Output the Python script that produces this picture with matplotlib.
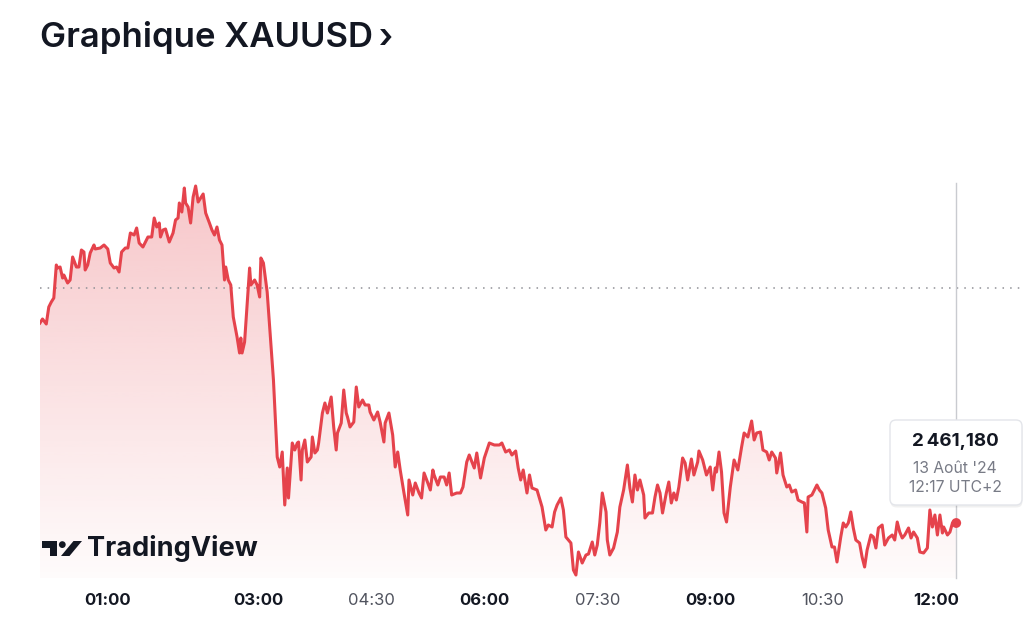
import matplotlib.pyplot as plt
import numpy as np
from matplotlib.patches import FancyBboxPatch, Polygon, Circle

# minutes after midnight (13 Aug 2024, UTC+2) and XAUUSD price
minutes = [
    6, 8, 11, 13, 15, 17, 19, 20, 22, 24, 25, 28, 30, 32, 35, 37, 39, 41, 42, 44,
    46, 49, 50, 54, 57, 60, 62, 65, 67, 69, 71, 74, 76, 78, 81, 83, 85, 88, 90, 92,
    95, 97, 99, 101, 102, 104, 106, 109, 112, 114, 116, 117, 119, 121, 122, 124, 126, 128, 130, 132,
    134, 136, 138, 141, 143, 145, 147, 149, 151, 153, 154, 156, 158, 160, 163, 165, 166, 167, 169, 173,
    174, 177, 179, 181, 182, 184, 187, 191,
    192, 195, 197, 199, 201, 203, 204, 207, 209, 211, 212, 214, 215, 217, 219, 222, 223, 225, 227, 228,
    231, 233, 235, 238, 240, 242, 243, 246, 248, 250, 251, 253, 256, 258, 260, 263, 265, 268, 269, 272,
    275, 277, 280, 281, 284, 287, 289, 291, 293, 296, 299, 300, 303, 305, 308, 310, 312, 315, 317, 319,
    320, 323, 325, 328, 330, 332, 334, 338, 341, 343, 346, 348, 352, 354, 357, 360, 364, 368, 372, 374,
    377, 380, 382, 385, 387, 389, 391, 394, 396,
    398, 402, 406, 409, 411, 414, 416, 418, 421, 423, 425, 429, 431, 433, 435, 438, 441, 443, 446, 448,
    450, 452, 454, 457, 458, 460, 463, 466, 468, 471, 474, 476, 478, 480, 482, 484, 487, 488, 491, 494,
    496, 498, 500, 502, 505, 507, 509, 511, 513, 515, 518, 520, 522, 525, 527, 530, 531, 534, 537, 540,
    542, 544, 545, 547, 549, 551, 553, 556, 559, 562, 565, 567, 570, 573, 575, 577,
    580, 582, 585, 587, 589, 592, 593, 596, 598, 601, 603, 605, 608, 610, 613, 615, 617, 618, 621, 625,
    627, 629, 632, 634, 637, 639, 641, 644, 646, 648, 650, 652, 654, 656, 659, 661, 663, 665, 668, 670,
    672, 674, 677, 679, 682, 685, 687, 689, 691, 693, 695, 698, 700, 702, 705, 707, 710, 713, 715, 717,
    719, 721, 723, 725, 726, 729, 731, 733, 736,
]
prices = [
    2471.18, 2471.38, 2471.13, 2471.98, 2472.23, 2472.43, 2474.08, 2473.93, 2473.98, 2473.43,
    2473.58, 2473.18, 2473.33, 2474.48, 2473.98, 2473.98, 2474.83, 2474.73, 2473.83, 2474.08,
    2474.68, 2475.08, 2474.88, 2474.93, 2475.08, 2474.88, 2474.18, 2473.93, 2473.98, 2473.73,
    2474.73, 2474.93, 2474.93, 2475.68, 2475.58, 2475.93, 2475.18, 2474.98, 2475.23, 2475.48,
    2475.48, 2476.43, 2475.98, 2476.18, 2475.48, 2475.83, 2475.88, 2475.23, 2475.68, 2476.33,
    2476.43, 2477.18, 2476.73, 2477.93, 2477.18, 2476.98, 2476.18, 2477.48, 2478.03, 2477.23,
    2477.43, 2477.63, 2476.68, 2476.18, 2475.83, 2475.58, 2475.98, 2475.33, 2475.08, 2473.33,
    2473.98, 2473.33, 2473.08, 2471.48, 2470.48, 2469.68, 2470.43, 2469.68, 2470.23, 2473.93,
    2473.08, 2473.33, 2473.08, 2472.48, 2474.43, 2474.18, 2472.73, 2469.18,
    2468.33, 2464.48, 2463.98, 2464.73, 2462.08, 2463.93, 2462.43, 2465.18, 2464.83, 2465.18,
    2465.23, 2463.33, 2464.83, 2465.33, 2464.23, 2464.48, 2465.48, 2464.68, 2464.83, 2465.18,
    2466.68, 2467.18, 2466.68, 2467.48, 2465.98, 2464.83, 2465.68, 2466.18, 2467.83, 2466.68,
    2466.48, 2465.98, 2466.23, 2467.98, 2466.98, 2467.33, 2467.08, 2467.08, 2466.73, 2466.33,
    2466.73, 2466.23, 2465.23, 2466.18, 2466.68, 2465.58, 2463.98, 2464.73, 2463.83, 2462.68,
    2461.58, 2463.33, 2462.58, 2463.18, 2462.68, 2462.43, 2463.68, 2463.18, 2462.83, 2463.83,
    2463.58, 2463.08, 2463.48, 2463.48, 2463.08, 2463.68, 2462.58, 2462.68, 2462.68, 2462.98,
    2464.23, 2464.58, 2463.93, 2464.68, 2463.43, 2464.43, 2465.18, 2465.08, 2465.08, 2465.18,
    2464.73, 2464.83, 2464.58, 2464.78, 2463.93, 2463.33, 2463.83, 2462.68, 2463.58,
    2462.93, 2462.83, 2461.98, 2460.83, 2461.08, 2460.98, 2461.73, 2462.08, 2462.43, 2461.83,
    2460.48, 2460.18, 2458.83, 2458.58, 2459.73, 2459.18, 2459.58, 2459.63, 2460.23, 2459.58,
    2460.08, 2461.18, 2462.68, 2461.73, 2460.33, 2459.58, 2459.93, 2460.73, 2461.98, 2462.83,
    2464.08, 2462.93, 2462.23, 2463.58, 2462.83, 2463.33, 2462.58, 2461.43, 2461.68, 2461.68,
    2462.48, 2463.08, 2462.68, 2461.68, 2462.68, 2463.23, 2462.18, 2462.68, 2462.33, 2462.98,
    2464.43, 2464.18, 2463.33, 2464.38, 2463.58, 2464.23, 2464.78, 2464.33, 2463.58, 2463.98,
    2462.83, 2463.93, 2463.73, 2464.73, 2463.73, 2461.68, 2461.23, 2462.98, 2464.33, 2463.83,
    2464.98, 2465.68, 2465.48, 2466.28, 2465.33, 2465.68,
    2465.73, 2464.83, 2464.73, 2464.33, 2464.73, 2464.43, 2463.68, 2464.68, 2463.58, 2462.98,
    2463.08, 2462.73, 2462.83, 2462.33, 2462.23, 2462.18, 2460.73, 2462.48, 2462.58, 2463.08,
    2462.83, 2462.68, 2461.93, 2460.83, 2459.98, 2459.98, 2459.23, 2460.48, 2461.18, 2460.98,
    2461.18, 2461.73, 2460.93, 2460.33, 2460.18, 2459.48, 2458.98, 2459.83, 2460.58, 2460.48,
    2459.93, 2460.93, 2461.08, 2460.08, 2460.43, 2460.58, 2460.33, 2461.23, 2460.73, 2460.43,
    2460.58, 2460.93, 2460.43, 2460.73, 2460.43, 2459.73, 2459.68, 2459.93, 2461.83, 2460.98,
    2461.58, 2460.58, 2461.58, 2460.68, 2460.98, 2460.58, 2460.73, 2461.18, 2461.18,
]
prev_close = 2472.93

tick_minutes = [60, 180, 270, 360, 450, 540, 630, 720]
tick_labels = ['01:00', '03:00', '04:30', '06:00', '07:30', '09:00', '10:30', '12:00']
tick_major = [True, True, False, True, False, True, False, True]

tooltip_price = '2\u2009461,180'
tooltip_date = "13 Août '24"
tooltip_time = '12:17 UTC+2'

RED = '#e5434c'
DARK = '#131722'
GREY = '#787b86'
FONT = ['Inter', 'DejaVu Sans']

plt.rcParams['font.family'] = FONT

fig = plt.figure(figsize=(10.24, 6.35), dpi=100, facecolor='white')
W, H = 1024, 635


def px(x, y):
    # pixel position (from top-left) -> inches for dpi_scale_trans
    return x / 100, (H - y) / 100


ax = fig.add_axes([40 / W, (H - 578) / H, 984 / W, 478 / H])
ax.set_facecolor('none')
ymin, ymax = 2458.43, 2482.33
ax.set_xlim(6, 790)
ax.set_ylim(ymin, ymax)

# gradient area under the line
t = np.array(minutes)
p = np.array(prices)
grad = np.zeros((256, 1, 4))
grad[..., 0] = 229 / 255
grad[..., 1] = 67 / 255
grad[..., 2] = 76 / 255
grad[:, 0, 3] = np.linspace(0.02, 0.30, 256)
top = p.max()
im = ax.imshow(grad, extent=[t[0], t[-1], ymin, top], origin='lower',
               aspect='auto', interpolation='bicubic', zorder=1)
verts = np.column_stack([np.r_[t, t[-1], t[0]], np.r_[p, ymin, ymin]])
clip = Polygon(verts, closed=True, transform=ax.transData, facecolor='none', edgecolor='none')
ax.add_patch(clip)
im.set_clip_path(clip)

ax.plot(t, p, color=RED, lw=2.2, solid_joinstyle='round', zorder=3)
ax.axhline(prev_close, color='#8f9096', lw=1.1, ls=(0, (1, 4)), zorder=2)
ax.plot([t[-1], t[-1]], [ymin, 2478.18], color='#c9cbd0', lw=1.0, zorder=2, clip_on=False)
ax.scatter([t[-1]], [p[-1]], s=50, color=RED, zorder=5, edgecolors='none')

for s in ax.spines.values():
    s.set_visible(False)
ax.set_yticks([])
ax.set_xticks(tick_minutes)
ax.set_xticklabels(tick_labels)
ax.tick_params(axis='x', length=0, pad=11, labelsize=12)
for lab, major in zip(ax.get_xticklabels(), tick_major):
    lab.set_fontweight('bold' if major else 'normal')
    lab.set_color(DARK if major else '#50535e')

# title
fig.text(40 / W, (H - 47) / H, 'Graphique XAUUSD\u2009\u203a', fontsize=25, fontweight='semibold',
         color=DARK, ha='left', va='baseline')

# TradingView logo
tr = fig.dpi_scale_trans
fig.patches.append(Polygon([px(42.0, 541.0), px(57.0, 541.0), px(57.0, 556.0), px(49.8, 556.0),
                            px(49.8, 548.0), px(42.0, 548.0)], closed=True,
                           transform=tr, facecolor=DARK, edgecolor='none'))
fig.patches.append(Circle(px(62.3, 544.6), 0.034, transform=tr, facecolor=DARK, edgecolor='none'))
fig.patches.append(Polygon([px(61.0, 556.0), px(69.5, 556.0), px(82.0, 541.0), px(73.5, 541.0)],
                           closed=True, transform=tr, facecolor=DARK, edgecolor='none'))
fig.text(87 / W, (H - 556) / H, 'TradingView', fontsize=19.5, fontweight='bold',
         color=DARK, ha='left', va='baseline')

# tooltip
box = FancyBboxPatch(px(890, 505), 132 / 100, 85 / 100,
                     boxstyle='round,pad=0,rounding_size=0.06', transform=tr,
                     facecolor='white', edgecolor='#e3e5ea', lw=1.0, zorder=10)
shadow = FancyBboxPatch(px(890.5, 507.5), 132 / 100, 85 / 100,
                        boxstyle='round,pad=0,rounding_size=0.06', transform=tr,
                        facecolor='#000000', alpha=0.06, edgecolor='none', zorder=9)
fig.patches.extend([shadow, box])
cx = 955 / W
fig.text(cx, (H - 441) / H, tooltip_price, fontsize=13.5, fontweight='bold', color=DARK,
         ha='center', va='center', zorder=11)
fig.text(cx, (H - 468.5) / H, tooltip_date, fontsize=11.3, color=GREY,
         ha='center', va='center', zorder=11)
fig.text(cx, (H - 487.5) / H, tooltip_time, fontsize=11.3, color=GREY,
         ha='center', va='center', zorder=11)

fig.savefig('out.png', dpi=100, facecolor='white')
